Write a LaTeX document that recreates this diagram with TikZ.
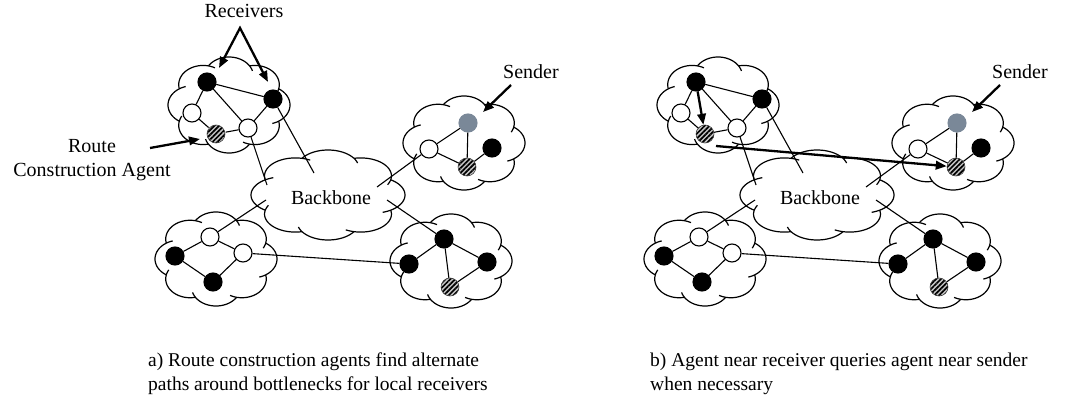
\documentclass[tikz,border=0pt]{standalone}
\usepackage{fontspec}
\setmainfont{Liberation Serif}
\usetikzlibrary{arrows.meta,patterns.meta}

\definecolor{sendergray}{RGB}{122,136,152}

\tikzset{
  host/.style={circle, draw, line width=1.1pt, minimum size=18pt, inner sep=0pt},
  recv/.style={host, fill=black},
  relay/.style={host, fill=white},
  agent/.style={host, draw=black!75, line width=0.6pt, preaction={fill=gray!45},
    pattern={Lines[angle=45,distance=3.4pt,line width=1.7pt]}},
  src/.style={host, draw=sendergray, fill=sendergray},
  link/.style={line width=1.1pt},
  cloudline/.style={line width=1.2pt},
  callout/.style={line width=2.3pt, -{Triangle[length=11pt,width=8.5pt]}},
  lbl/.style={font=\fontsize{20}{23.5}\selectfont, inner sep=0pt},
  caption/.style={font=\fontsize{19.5}{24}\selectfont, inner sep=0pt, anchor=north west, align=left},
}

% Cloud outline built from eight overlapping lobes; each lobe runs a little
% past its junction so that a short hook shows inside the outline.
\newcommand\netcloud[4]{%
  \begin{scope}[shift={(#1,#2)},xscale=#3,yscale=#4]
    \foreach \t in {0,45,...,315}{
      \pgfmathsetmacro\ta{\t-57}
      \pgfmathsetmacro\tb{\t+74}
      \draw[cloudline] plot[domain=\ta:\tb,samples=24,smooth]
        ({0.6*cos(\t)+0.4*cos(\x)},{0.6*sin(\t)+0.4*sin(\x)});
    }
  \end{scope}}

% One network: four access clouds round a backbone cloud.
\newcommand\network[2]{%
  \begin{scope}[shift={(#2,0)}]
    \netcloud{229}{105}{61}{48}
    \netcloud{464}{143}{61}{47}
    \netcloud{216}{259}{61}{47}
    \netcloud{451}{261}{61}{47}
    \netcloud{328}{195}{77}{45}
    \node[lbl] (#1bb) at (331,198) {Backbone};
    % upper left access network
    \node[recv]  (#1ra) at (207,82)  {};
    \node[recv]  (#1rb) at (273,99)  {};
    \node[relay] (#1wa) at (192,113) {};
    \node[relay] (#1wb) at (248,128) {};
    \node[agent] (#1ag) at (216,134) {};
    % sender's access network
    \node[src]   (#1s)  at (468,123) {};
    \node[relay] (#1sw) at (429,149) {};
    \node[recv]  (#1sr) at (492,148) {};
    \node[agent] (#1sa) at (467,167) {};
    % lower left access network
    \node[recv]  (#1la) at (175,256) {};
    \node[relay] (#1lw) at (210,237) {};
    \node[relay] (#1lv) at (243,253) {};
    \node[recv]  (#1lb) at (213,282) {};
    % lower right access network
    \node[recv]  (#1ma) at (444,239) {};
    \node[recv]  (#1mb) at (409,264) {};
    \node[recv]  (#1mc) at (487,262) {};
    \node[agent] (#1mg) at (450,287) {};
    % attachment points inside the backbone
    \coordinate (#1p1) at (314,173);
    \coordinate (#1p2) at (267,185);
    \coordinate (#1p3) at (377,187);
    \coordinate (#1p4) at (387,200);
    \coordinate (#1p5) at (266,200);
    % links
    \draw[link] (#1ra) -- (#1rb);
    \draw[link] (#1ra) -- (#1wa);
    \draw[link] (#1ra) -- (#1wb);
    \draw[link] (#1rb) -- (#1wb);
    \draw[link] (#1wa) -- (#1ag);
    \draw[link] (#1ag) -- (#1wb);
    \draw[link] (#1rb) -- (#1p1);
    \draw[link] (#1wb) -- (#1p2);
    \draw[link] (#1s)  -- (#1sw);
    \draw[link] (#1s)  -- (#1sa);
    \draw[link] (#1sw) -- (#1sa);
    \draw[link] (#1sa) -- (#1sr);
    \draw[link] (#1sw) -- (#1p3);
    \draw[link] (#1la) -- (#1lw);
    \draw[link] (#1lw) -- (#1lv);
    \draw[link] (#1la) -- (#1lb);
    \draw[link] (#1lb) -- (#1lv);
    \draw[link] (#1p5) -- (#1lw);
    \draw[link] (#1lv) -- (#1mb);
    \draw[link] (#1ma) -- (#1mb);
    \draw[link] (#1ma) -- (#1mc);
    \draw[link] (#1ma) -- (#1mg);
    \draw[link] (#1mg) -- (#1mc);
    \draw[link] (#1p4) -- (#1ma);
    % sender label
    \node[lbl] (#1sl) at (531,72) {Sender};
    \coordinate (#1sf) at (511,85);
    \coordinate (#1st) at (483,112);
    \draw[callout] (#1sf) -- (#1st);
  \end{scope}}

\begin{document}
\begin{tikzpicture}[x=1pt,y=-1pt]
  \useasboundingbox (0,0) rectangle (1065,417);

  % (a) local route construction
  \network{a}{0}
  \node[lbl] (rcv) at (244,11) {Receivers};
  \coordinate (rcvfork) at (240,28);
  \coordinate (rcvtipa) at (219,68);
  \coordinate (rcvtipb) at (268,82);
  \draw[line width=2.3pt, line join=miter,
        {Triangle[length=11pt,width=8.5pt]}-{Triangle[length=11pt,width=8.5pt]}]
    (rcvtipa) -- (rcvfork) -- (rcvtipb);
  \node[lbl, align=center] (rca) at (92,160) {Route\\Construction Agent};
  \coordinate (rcaf) at (150,148);
  \coordinate (rcat) at (200,139);
  \draw[callout] (rcaf) -- (rcat);
  \node[caption] (capa) at (148,353)
    {a) Route construction agents find alternate\\paths around bottlenecks for local receivers};

  % (b) query towards the sender's agent
  \network{b}{489}
  \draw[callout] (bra) -- (bag);
  \coordinate (bq) at (716,146);
  \draw[callout] (bq) -- (bsa);
  \node[caption] (capb) at (650,353)
    {b) Agent near receiver queries agent near sender\\when necessary};
\end{tikzpicture}
\end{document}
